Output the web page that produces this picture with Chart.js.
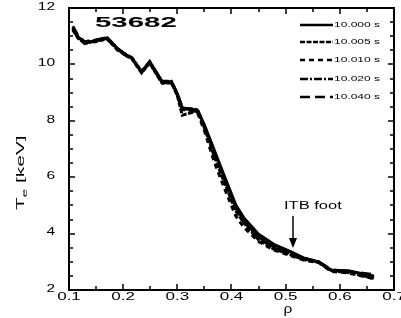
<!DOCTYPE html>
<html>
<head>
<meta charset="utf-8">
<script src="https://cdn.jsdelivr.net/npm/chart.js@4"></script>
<style>
  html, body { margin: 0; padding: 0; background: #fff; }
</style>
</head>
<body>
<canvas id="teChart" width="401" height="318"></canvas>
<script>
// normalized radius
const rho = [0.107, 0.117, 0.129, 0.148, 0.170, 0.190, 0.206, 0.216, 0.234, 0.249,
             0.260, 0.272, 0.289, 0.300, 0.309, 0.337, 0.350, 0.368, 0.386, 0.408,
             0.423, 0.450, 0.478, 0.509, 0.533, 0.561, 0.584, 0.616, 0.663];

// Te [keV] at each time slice
const te10000 = [11.26, 10.97, 10.76, 10.83, 10.94, 10.55, 10.33, 10.23, 9.73, 10.09,
                 9.75, 9.38, 9.38, 8.95, 8.45, 8.38, 7.85, 6.96, 6.08, 5.01,
                 4.55, 3.98, 3.62, 3.36, 3.14, 3.00, 2.70, 2.68, 2.48];
const te10005 = [11.22, 10.92, 10.78, 10.80, 10.90, 10.52, 10.30, 10.20, 9.70, 10.05,
                 9.70, 9.33, 9.35, 8.90, 8.20, 8.35, 7.75, 6.75, 5.85, 4.80,
                 4.38, 3.78, 3.45, 3.25, 3.08, 2.98, 2.68, 2.62, 2.42];
const te10010 = [11.30, 10.95, 10.80, 10.85, 10.92, 10.50, 10.31, 10.22, 9.75, 10.06,
                 9.72, 9.35, 9.36, 8.92, 8.40, 8.30, 7.65, 6.55, 5.65, 4.62,
                 4.22, 3.72, 3.42, 3.22, 3.06, 2.97, 2.66, 2.60, 2.40];
const te10020 = [11.25, 10.95, 10.74, 10.84, 10.96, 10.56, 10.34, 10.24, 9.75, 10.10,
                 9.76, 9.40, 9.40, 8.96, 8.46, 8.40, 7.82, 6.90, 6.00, 4.92,
                 4.45, 3.88, 3.52, 3.30, 3.10, 2.99, 2.72, 2.66, 2.50];
const te10040 = [11.35, 11.00, 10.80, 10.86, 10.95, 10.54, 10.32, 10.22, 9.72, 10.08,
                 9.74, 9.36, 9.38, 8.94, 8.44, 8.36, 7.80, 6.88, 5.98, 4.90,
                 4.42, 3.85, 3.50, 3.28, 3.12, 3.00, 2.70, 2.65, 2.55];

const timeLabels = ["10.000 s", "10.005 s", "10.010 s", "10.020 s", "10.040 s"];
const allSeries = [te10000, te10005, te10010, te10020, te10040];
const dashStyles = [[], [5, 1.5], [5, 4], [8, 2, 2, 2], [10, 5]];

const xTicks = [0.1, 0.2, 0.3, 0.4, 0.5, 0.6, 0.7];
const yTicks = [2, 4, 6, 8, 10, 12];

function wideText(ctx, txt, x, y, sx, align) {
    ctx.save();
    ctx.translate(x, y);
    ctx.scale(sx, 1);
    ctx.textAlign = align;
    ctx.fillText(txt, 0, 0);
    ctx.restore();
}

const decorations = {
    id: "decorations",
    afterDraw(chart) {
        const ctx = chart.ctx;
        const area = chart.chartArea;
        const xs = chart.scales.x, ys = chart.scales.y;
        ctx.save();
        ctx.strokeStyle = "#000";
        ctx.fillStyle = "#000";

        // frame
        ctx.lineWidth = 2;
        ctx.strokeRect(area.left, area.top, area.right - area.left, area.bottom - area.top);

        // inward ticks on all four sides
        ctx.lineWidth = 1.5;
        ctx.beginPath();
        for (let v = 0.1; v <= 0.7001; v += 0.05) {
            const px = Math.round(xs.getPixelForValue(v));
            const major = Math.abs(v * 10 - Math.round(v * 10)) < 0.01;
            const len = major ? 6 : 4;
            ctx.moveTo(px, area.bottom); ctx.lineTo(px, area.bottom - len);
            ctx.moveTo(px, area.top); ctx.lineTo(px, area.top + len);
        }
        for (let v = 2; v <= 12.001; v += 0.5) {
            const py = Math.round(ys.getPixelForValue(v));
            const major = Math.abs(v / 2 - Math.round(v / 2)) < 0.01;
            const len = major ? 6 : 4;
            ctx.moveTo(area.left, py); ctx.lineTo(area.left + len, py);
            ctx.moveTo(area.right, py); ctx.lineTo(area.right - len, py);
        }
        ctx.stroke();

        // tick labels
        ctx.font = "10px Arial, 'Liberation Sans', sans-serif";
        ctx.textBaseline = "middle";
        yTicks.forEach(v => wideText(ctx, String(v), 55, ys.getPixelForValue(v) - 1, 1.55, "right"));
        xTicks.forEach(v => wideText(ctx, v.toFixed(1), xs.getPixelForValue(v), 297, 1.7, "center"));

        // axis titles
        ctx.font = "12px Arial, 'Liberation Sans', sans-serif";
        wideText(ctx, "\u03c1", 288, 310, 1.3, "center");

        ctx.save();
        ctx.translate(21, 210);
        ctx.rotate(-Math.PI / 2);
        ctx.scale(1.9, 1);
        ctx.textAlign = "left";
        ctx.font = "11px Arial, 'Liberation Sans', sans-serif";
        ctx.fillText("T", 0, 0);
        let w = ctx.measureText("T").width;
        ctx.font = "8px Arial, 'Liberation Sans', sans-serif";
        ctx.fillText("e", w, 4);
        w += ctx.measureText("e").width;
        ctx.font = "11px Arial, 'Liberation Sans', sans-serif";
        ctx.fillText(" [keV]", w, 0);
        ctx.restore();

        // shot number
        ctx.font = "bold 14px Arial, 'Liberation Sans', sans-serif";
        wideText(ctx, "53682", 95, 23, 2.1, "left");

        // legend
        ctx.font = "8px Arial, 'Liberation Sans', sans-serif";
        const legY = [25, 42, 60, 79, 97];
        chart.data.datasets.forEach((ds, i) => {
            ctx.save();
            ctx.lineWidth = 2.5;
            ctx.setLineDash(ds.borderDash || []);
            ctx.beginPath();
            ctx.moveTo(300, legY[i]);
            ctx.lineTo(333, legY[i]);
            ctx.stroke();
            ctx.restore();
            wideText(ctx, ds.label, 334, legY[i], 1.5, "left");
        });

        // ITB foot annotation
        ctx.font = "10px Arial, 'Liberation Sans', sans-serif";
        wideText(ctx, "ITB foot", 284, 206, 1.65, "left");
        ctx.lineWidth = 1.5;
        ctx.beginPath();
        ctx.moveTo(293, 216);
        ctx.lineTo(293, 240);
        ctx.stroke();
        ctx.beginPath();
        ctx.moveTo(289, 238);
        ctx.lineTo(297, 238);
        ctx.lineTo(293, 248);
        ctx.closePath();
        ctx.fill();

        ctx.restore();
    }
};

const ctx = document.getElementById("teChart").getContext("2d");

new Chart(ctx, {
    type: "line",
    data: {
        datasets: allSeries.map((vals, i) => ({
            label: timeLabels[i],
            data: rho.map((r, j) => ({ x: r, y: vals[j] })),
            borderColor: "#000",
            borderWidth: 3,
            borderDash: dashStyles[i],
            pointRadius: 0,
            tension: 0,
            fill: false
        }))
    },
    options: {
        responsive: false,
        animation: false,
        layout: { padding: { top: 8, right: 7, left: 0, bottom: 0 } },
        plugins: {
            legend: { display: false },
            tooltip: { enabled: false }
        },
        scales: {
            x: {
                type: "linear",
                min: 0.1,
                max: 0.7,
                ticks: { display: false, stepSize: 0.1 },
                grid: { display: false },
                border: { display: false },
                afterFit(s) { s.height = 28; s.paddingLeft = 0; s.paddingRight = 0; }
            },
            y: {
                min: 2,
                max: 12,
                ticks: { display: false, stepSize: 2 },
                grid: { display: false },
                border: { display: false },
                afterFit(s) { s.width = 69; s.paddingTop = 0; s.paddingBottom = 0; }
            }
        }
    },
    plugins: [decorations]
});
</script>
</body>
</html>
